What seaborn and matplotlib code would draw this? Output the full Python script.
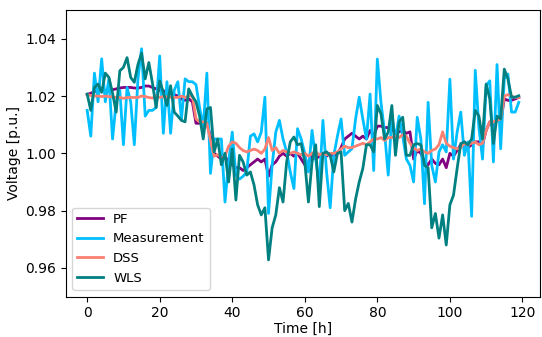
import matplotlib
matplotlib.use("Agg")
import matplotlib.pyplot as plt
import seaborn as sns
import numpy as np
import pandas as pd

hours = list(range(120))

pf = [1.0205, 1.021, 1.0215, 1.022, 1.0225, 1.022, 1.0218, 1.0222, 1.0225, 1.0228,
      1.023, 1.023, 1.023, 1.0228, 1.0228, 1.023, 1.0235, 1.0235, 1.023, 1.0225,
      1.022, 1.0218, 1.0215, 1.021, 1.0205, 1.020, 1.019, 1.0185, 1.019, 1.018,
      1.0105, 1.0105, 1.011, 1.0105, 1.006, 1.000, 0.999, 0.998, 0.999, 0.997,
      0.996, 0.995, 0.995, 0.994, 0.995, 0.996, 0.997, 0.998, 0.997, 0.998,
      0.992, 0.996, 0.997, 0.999, 1.000, 0.999, 1.000, 0.999, 1.000, 0.998,
      0.996, 0.997, 0.999, 0.998, 0.999, 1.000, 0.999, 1.000, 0.999, 1.000,
      1.002, 1.005, 1.006, 1.007, 1.006, 1.005, 1.006, 1.005, 1.008, 1.006,
      1.0095, 1.0095, 1.009, 1.009, 1.0085, 1.007, 1.0075, 1.008, 1.007, 1.0075,
      0.998, 1.001, 1.000, 0.997, 0.996, 0.998, 0.9965, 0.996, 0.998, 0.995,
      1.000, 0.999, 1.001, 1.003, 1.004, 1.002, 1.003, 1.004, 1.004, 1.003,
      1.008, 1.011, 1.009, 1.012, 1.011, 1.019, 1.0185, 1.0185, 1.019, 1.0195]

measurement = [1.015, 1.006, 1.028, 1.018, 1.033, 1.018, 1.026, 1.005, 1.018, 1.022,
               1.003, 1.023, 1.018, 1.003, 1.026, 1.0365, 1.013, 1.015, 1.015, 1.016,
               1.034, 1.007, 1.025, 1.007, 1.022, 1.025, 1.012, 1.026, 1.025, 1.025,
               1.024, 1.016, 1.009, 1.028, 0.993, 1.005, 1.005, 1.005, 0.983, 0.997,
               1.0074, 0.9924, 0.991, 0.992, 0.9935, 1.006, 1.0068, 1.004, 1.0074, 1.0196,
               0.979, 0.9958, 1.0074, 1.0115, 1.005, 1.0005, 0.9935, 0.9877, 1.0086, 1.005,
               1.000, 0.9935, 1.008, 0.998, 0.989, 1.0115, 0.9935, 0.981, 0.9993, 1.006,
               1.012, 0.9993, 1.0005, 1.0016, 1.012, 1.0196, 1.012, 1.005, 1.0207, 0.994,
               1.0329, 1.0178, 1.0074, 0.9924, 1.013, 1.005, 1.013, 1.006, 0.998, 0.9958,
               0.990, 1.0126, 1.005, 0.9824, 1.0178, 0.9958, 0.990, 1.0005, 1.003, 1.0005,
               1.0259, 0.998, 1.0074, 1.0144, 0.9993, 1.004, 0.978, 1.029, 1.009, 0.998,
               1.0236, 1.0253, 0.997, 1.031, 1.0016, 1.026, 1.0277, 1.0144, 1.0144, 1.0178]

dss = [1.0205, 1.0202, 1.020, 1.020, 1.0198, 1.020, 1.0198, 1.0197, 1.0195, 1.0195,
       1.0192, 1.0195, 1.0195, 1.0195, 1.0195, 1.020, 1.0198, 1.0195, 1.0193, 1.020,
       1.0195, 1.0198, 1.0197, 1.0196, 1.0195, 1.0195, 1.020, 1.0195, 1.020, 1.020,
       1.012, 1.011, 1.011, 1.0105, 1.0045, 0.999, 0.9995, 0.9985, 0.999, 1.0025,
       1.004, 1.0035, 1.002, 1.001, 1.0005, 1.001, 1.0015, 1.001, 1.000, 1.0015,
       1.0055, 1.001, 1.002, 1.000, 1.001, 1.0005, 1.000, 1.0005, 1.000, 0.9995,
       1.000, 0.999, 1.000, 1.0005, 0.9995, 1.000, 0.9995, 1.000, 1.000, 1.0005,
       1.0015, 1.0025, 1.002, 1.002, 1.0025, 1.003, 1.0035, 1.003, 1.004, 1.005,
       1.005, 1.0055, 1.0045, 1.0055, 1.0055, 1.006, 1.0055, 1.0065, 1.006, 1.0035,
       1.002, 1.001, 1.0015, 1.0005, 1.000, 1.001, 1.0015, 1.003, 1.0075, 1.0035,
       1.0025, 1.002, 1.0015, 1.002, 1.0035, 1.003, 1.0035, 1.004, 1.003, 1.0035,
       1.008, 1.011, 1.011, 1.0115, 1.012, 1.020, 1.0205, 1.020, 1.0195, 1.0195]

wls = [1.0207, 1.015, 1.023, 1.0242, 1.0213, 1.028, 1.0265, 1.021, 1.0144, 1.0288,
       1.030, 1.0334, 1.0265, 1.0248, 1.031, 1.035, 1.026, 1.0317, 1.0245, 1.016,
       1.0253, 1.0213, 1.0167, 1.0236, 1.0144, 1.013, 1.0115, 1.011, 1.0225, 1.020,
       1.018, 1.013, 1.005, 1.0155, 1.016, 1.0005, 1.005, 0.996, 1.000, 0.990,
       1.0016, 0.9837, 0.9993, 0.997, 0.9924, 0.9935, 0.989, 0.982, 0.9785, 0.981,
       0.9628, 0.974, 0.9785, 0.988, 0.983, 0.997, 1.004, 1.0057, 1.003, 1.0034,
       0.997, 0.983, 0.997, 1.003, 0.9814, 1.000, 1.0005, 0.9993, 0.9935, 1.000,
       1.0005, 0.980, 0.9825, 0.976, 0.984, 0.990, 0.9947, 1.003, 1.003, 1.0005,
       1.0167, 1.0138, 1.005, 1.0074, 1.0167, 0.9993, 1.011, 1.0126, 0.9993, 0.9993,
       1.003, 1.0034, 1.003, 0.9958, 0.995, 0.974, 0.979, 0.9704, 0.9785, 0.968,
       0.982, 0.9854, 0.9947, 1.0034, 1.004, 1.003, 1.005, 1.015, 1.013, 1.005,
       1.0242, 1.019, 1.0034, 1.013, 1.012, 1.0294, 1.026, 1.0196, 1.0196, 1.0201]

series = {"PF": pf, "Measurement": measurement, "DSS": dss, "WLS": wls}
colors = {"PF": "purple", "Measurement": "deepskyblue", "DSS": "salmon", "WLS": "teal"}

frames = []
for name, vals in series.items():
    frames.append(pd.DataFrame({"Time": hours, "Voltage": vals, "Series": name}))
df = pd.concat(frames, ignore_index=True)

fig, ax = plt.subplots(figsize=(5.42, 3.37), dpi=100)
sns.lineplot(data=df, x="Time", y="Voltage", hue="Series", palette=colors,
             linewidth=2, ax=ax)

ax.set_ylim(0.95, 1.05)
ax.set_yticks([0.96, 0.98, 1.00, 1.02, 1.04])
ax.set_xticks([0, 20, 40, 60, 80, 100, 120])
ax.set_xlabel("Time [h]", labelpad=1)
ax.set_ylabel("Voltage [p.u.]", labelpad=3)
ax.legend(loc="lower left", title=None, prop={"size": 9.5}, handlelength=1.9)

fig.subplots_adjust(left=0.121, right=0.997, top=0.970, bottom=0.120)
fig.savefig("out.png", dpi=100)
